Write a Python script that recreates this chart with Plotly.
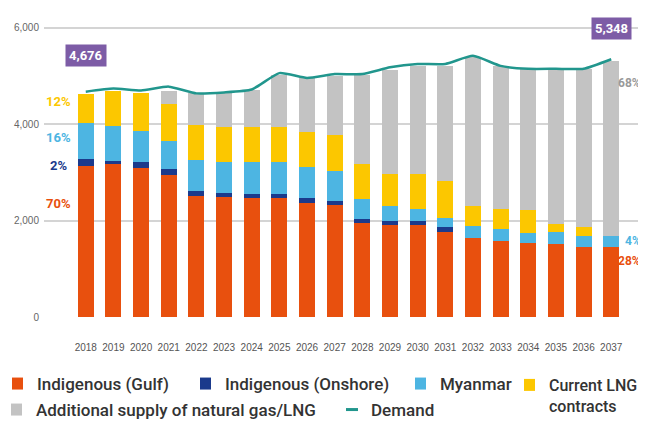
import plotly.graph_objects as go

years = list(range(2018, 2038))
gulf = [3130, 3165, 3095, 2940, 2510, 2490, 2460, 2460, 2370, 2315,
        1945, 1905, 1905, 1765, 1635, 1580, 1545, 1525, 1455, 1455]
onshore = [140, 70, 115, 125, 115, 90, 95, 95, 105, 90,
           95, 90, 90, 105, 0, 0, 0, 0, 0, 0]
myanmar = [760, 735, 655, 585, 640, 635, 655, 655, 640, 635,
           415, 310, 255, 195, 255, 240, 205, 240, 230, 230]
lng = [605, 725, 780, 760, 725, 725, 725, 725, 715, 745,
       730, 670, 725, 755, 415, 415, 480, 160, 185, 0]
additional = [0, 0, 0, 275, 655, 730, 765, 1090, 1125, 1220,
              1840, 2160, 2225, 2380, 3100, 2980, 2915, 3225, 3280, 3620]
demand = [4676, 4740, 4700, 4780, 4640, 4660, 4720, 5060, 4960, 5040,
          5040, 5180, 5250, 5250, 5420, 5210, 5150, 5150, 5150, 5348]

share_2018 = ["12%", "16%", "2%", "70%"]
share_2037 = ["68%", "4%", "28%"]

ORANGE = "#e8500e"
NAVY = "#1b3a8c"
SKY = "#4db5e2"
YELLOW = "#fcc700"
GREY = "#c3c3c3"
TEAL = "#21968d"
PURPLE = "#7d5ca6"

# page has an 8px body margin, so the figure is drawn 8px smaller
W, H, OFF = 638, 413, 8
ML, MR = 34, 6

series = [
    ("Indigenous (Gulf)", gulf, ORANGE, "legend"),
    ("Indigenous (Onshore)", onshore, NAVY, "legend2"),
    ("Myanmar", myanmar, SKY, "legend3"),
    ("Current LNG<br>contracts", lng, YELLOW, "legend4"),
    ("Additional supply of natural gas/LNG", additional, GREY, "legend5"),
]

fig = go.Figure()
for name, vals, color, leg in series:
    fig.add_trace(
        go.Bar(x=years, y=vals, name=name, marker={"color": color, "line": {"width": 0}},
               width=0.58, legend=leg)
    )

fig.add_trace(
    go.Scatter(x=years, y=demand, mode="lines", name="Demand", showlegend=False,
               line={"color": TEAL, "width": 2.5, "shape": "spline", "smoothing": 0.5})
)
fig.add_trace(
    go.Scatter(x=[None], y=[None], mode="markers", name="Demand", legend="legend6",
               marker={"symbol": "line-ew", "size": 10, "line": {"width": 3, "color": TEAL}})
)

# value boxes
for yr, val, yy in [(years[0], demand[0], 5420), (years[-1], demand[-1], 5990)]:
    fig.add_annotation(x=yr, y=yy, text=f"<b>{val:,}</b>", showarrow=False,
                       bgcolor=PURPLE, borderpad=3,
                       font={"family": "Roboto", "size": 13, "color": "white"})

# share labels
left = [(share_2018[0], 4470, YELLOW), (share_2018[1], 3720, SKY),
        (share_2018[2], 3140, NAVY), (share_2018[3], 2360, ORANGE)]
for txt, yy, col in left:
    fig.add_annotation(x=2017.03, y=yy, text=f"<b>{txt}</b>", showarrow=False,
                       font={"family": "Roboto", "size": 13, "color": col})
right = [(share_2037[0], 4860, "#9a9a9a"), (share_2037[1], 1580, SKY),
         (share_2037[2], 1165, ORANGE)]
right_edge = (643 - OFF - ML) / (W - ML - MR)
for txt, yy, col in right:
    fig.add_annotation(x=right_edge, xref="paper", xanchor="right", y=yy,
                       text=f"<b>{txt}</b>", showarrow=False,
                       font={"family": "Roboto", "size": 12, "color": col})

# legend entries placed one by one: (symbol centre x, y on page, anchor, font size)
legend_pos = {
    "legend": (17, 384, "middle", 17),
    "legend2": (205, 384, "middle", 17),
    "legend3": (420, 384, "middle", 17),
    "legend4": (529, 368, "top", 16),
    "legend5": (16, 410, "middle", 17),
    "legend6": (351, 410, "middle", 17),
}
for key, (px, py, anchor, size) in legend_pos.items():
    fig.update_layout({key: {
        "x": max(px - OFF - 5, 0) / W, "y": 1 - (py - OFF) / H,
        "xref": "container", "yref": "container",
        "xanchor": "left", "yanchor": anchor, "orientation": "h",
        "font": {"family": "Roboto", "size": size, "color": "#333333", "weight": 500},
        "itemwidth": 30, "indentation": -15, "valign": "top",
        "bgcolor": "rgba(0,0,0,0)", "itemclick": False,
    }})

fig.update_layout(
    width=W,
    height=H,
    barmode="stack",
    plot_bgcolor="white",
    paper_bgcolor="white",
    margin={"l": ML, "r": MR, "t": 15, "b": 103},
    xaxis={
        "range": [2016.49, 2038.04],
        "tickmode": "array",
        "tickvals": years,
        "showgrid": False,
        "zeroline": False,
        "ticklabelstandoff": 22,
        "tickfont": {"family": "Liberation Sans", "size": 10, "color": "#555555"},
    },
    yaxis={
        "range": [-20, 6100],
        "tickvals": [0, 2000, 4000, 6000],
        "tickformat": ",",
        "showgrid": True,
        "gridcolor": "#d4d4d4",
        "gridwidth": 1.5,
        "zeroline": False,
        "ticklabelstandoff": 4,
        "tickfont": {"family": "Liberation Sans", "size": 10, "color": "#666666"},
    },
)

fig.write_html("out.html")
